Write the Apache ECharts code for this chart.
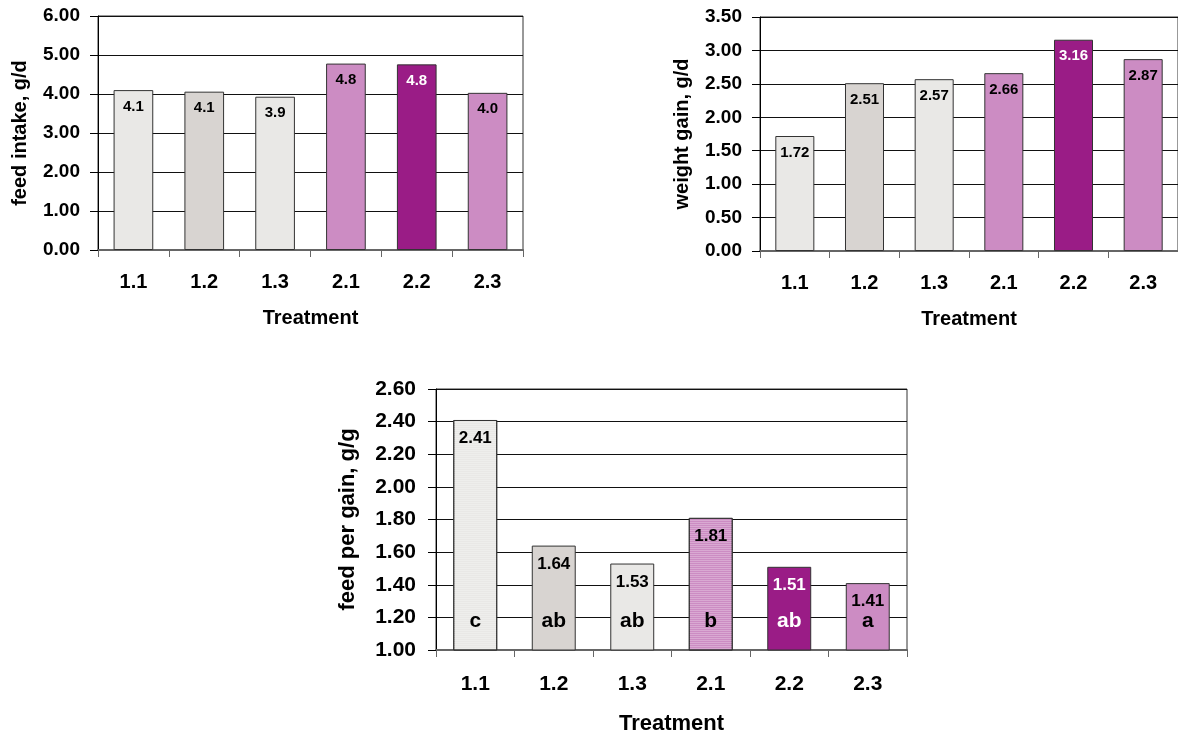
<!DOCTYPE html>
<html>
<head>
<meta charset="utf-8">
<script src="https://cdn.jsdelivr.net/npm/echarts@6/dist/echarts.min.js"></script>
<style>
html,body{margin:0;padding:0;background:#fff;}
#c{width:1178px;height:738px;}
</style>
</head>
<body>
<div id="c"></div>
<script>
// ---- data ----
const categories = ['1.1', '1.2', '1.3', '2.1', '2.2', '2.3'];
const feedIntake = [4.10, 4.06, 3.93, 4.78, 4.76, 4.03];
const weightGain = [1.72, 2.51, 2.57, 2.66, 3.16, 2.87];
const feedPerGain = [2.41, 1.64, 1.53, 1.81, 1.51, 1.41];
const fpgLetters = ['c', 'ab', 'ab', 'b', 'ab', 'a'];
const feedIntakeTicks = { min: 0, max: 6, interval: 1 };
const weightGainTicks = { min: 0, max: 3.5, interval: 0.5 };
const fpgTicks = { min: 1, max: 2.6, interval: 0.2 };

// ---- styles ----
const barColors = ['#E9E8E6', '#D8D4D1', '#E9E8E6', '#CC8CC3', '#9A1C86', '#CC8CC3'];
const labelColors = ['#000', '#000', '#000', '#000', '#fff', '#000'];
const FONT = '"Liberation Sans", Arial, sans-serif';

const chart = echarts.init(document.getElementById('c'), null, { renderer: 'canvas' });

function gridCfg(left, top, width, height) {
  return { left, top, width, height, show: true, borderColor: '#333', borderWidth: 1, backgroundColor: 'transparent', containLabel: false };
}
function xAxisCfg(gi, fs, margin, nameSize, nameGap) {
  return {
    type: 'category', gridIndex: gi, data: categories,
    axisLine: { show: true, lineStyle: { color: '#666', width: 2 } },
    axisTick: { show: true, length: 7, lineStyle: { color: '#666', width: 1 } },
    axisLabel: { fontFamily: FONT, fontWeight: 'bold', fontSize: fs, color: '#000', margin },
    name: 'Treatment', nameLocation: 'middle', nameGap,
    nameTextStyle: { fontFamily: FONT, fontWeight: 'bold', fontSize: nameSize, color: '#000' },
    splitLine: { show: false }
  };
}
function yAxisCfg(gi, t, fs, margin, name, nameSize, nameGap) {
  return {
    type: 'value', gridIndex: gi, min: t.min, max: t.max, interval: t.interval,
    axisLine: { show: true, lineStyle: { color: '#000', width: 1 } },
    axisTick: { show: true, length: 8, lineStyle: { color: '#000', width: 1 } },
    axisLabel: { fontFamily: FONT, fontWeight: 'bold', fontSize: fs, color: '#000', margin, formatter: v => v.toFixed(2) },
    splitLine: { show: true, lineStyle: { color: '#111', width: 1 } },
    name, nameLocation: 'middle', nameGap, nameRotate: 90,
    nameTextStyle: { fontFamily: FONT, fontWeight: 'bold', fontSize: nameSize, color: '#000' }
  };
}
function barData(values, decimals, stripes) {
  return values.map((v, i) => {
    const item = {
      value: v,
      itemStyle: { color: barColors[i] },
      label: { color: labelColors[i], formatter: () => v.toFixed(decimals) }
    };
    if (stripes && stripes[i]) {
      item.itemStyle.decal = { symbol: 'rect', symbolSize: 1, dashArrayX: [[10, 0]], dashArrayY: [1, 1], color: 'rgba(255,255,255,0.25)' };
    }
    return item;
  });
}
function barSeries(xi, values, decimals, fs, dist, stripes) {
  return {
    type: 'bar', xAxisIndex: xi, yAxisIndex: xi, barWidth: '56%',
    data: barData(values, decimals, stripes),
    itemStyle: { borderColor: '#333', borderWidth: 1 },
    label: { show: true, position: 'insideTop', distance: dist, fontFamily: FONT, fontWeight: 'bold', fontSize: fs },
    emphasis: { disabled: true }, animation: false, z: 2
  };
}

const option = {
  animation: false,
  backgroundColor: '#fff',
  grid: [
    gridCfg(98, 16, 425, 234),
    gridCfg(760, 17, 424, 234),
    gridCfg(436, 389, 471, 261)
  ],
  xAxis: [
    xAxisCfg(0, 20, 22, 20, 58),
    xAxisCfg(1, 20, 22, 20, 58),
    xAxisCfg(2, 21, 24, 22, 63)
  ],
  yAxis: [
    yAxisCfg(0, feedIntakeTicks, 19, 18, 'feed intake, g/d', 20, 68),
    yAxisCfg(1, weightGainTicks, 19, 18, 'weight gain, g/d', 20, 68),
    yAxisCfg(2, fpgTicks, 21, 20, 'feed per gain, g/g', 22, 77)
  ],
  series: [
    barSeries(0, feedIntake, 1, 15, 9),
    barSeries(1, weightGain, 2, 15, 9),
    barSeries(2, feedPerGain, 2, 17, 10, [true, false, false, true, false, false]),
    {
      type: 'bar', xAxisIndex: 2, yAxisIndex: 2, barWidth: '56%', barGap: '-100%',
      data: feedPerGain.map((v, i) => ({ value: v, label: { color: labelColors[i], formatter: () => fpgLetters[i] } })),
      itemStyle: { color: 'rgba(0,0,0,0)' },
      label: { show: true, position: 'insideBottom', distance: 18, fontFamily: FONT, fontWeight: 'bold', fontSize: 21 },
      emphasis: { disabled: true }, silent: true, z: 3
    }
  ]
};
chart.setOption(option);
</script>
</body>
</html>
